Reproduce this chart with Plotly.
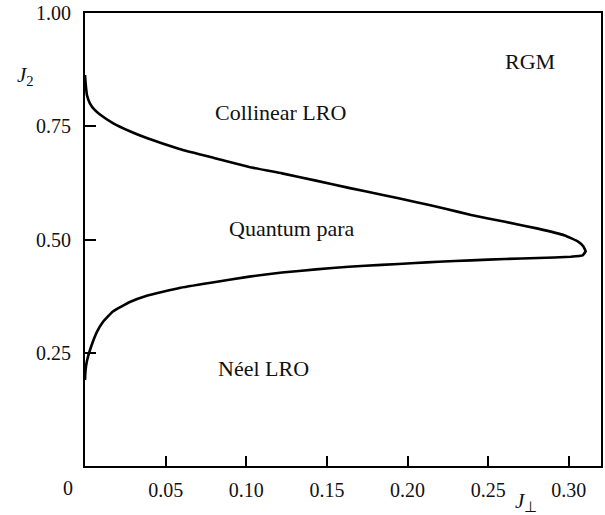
import plotly.graph_objects as go

# Phase boundary (J_perp, J2), traced from top branch through nose to bottom branch
j_perp = [0.0, 0.0005, 0.0012, 0.0031, 0.0060, 0.0093, 0.0173, 0.0278, 0.0383, 0.0586, 0.0800,
          0.1019, 0.1222, 0.1432, 0.1636, 0.1840, 0.2049, 0.2235, 0.2395, 0.2605, 0.2809,
          0.2975, 0.3056, 0.3090, 0.3105, 0.3086, 0.3012, 0.2809, 0.2605, 0.2395, 0.2191,
          0.2049, 0.1840, 0.1636, 0.1432, 0.1222, 0.1019, 0.0790, 0.0586, 0.0383, 0.0278,
          0.0173, 0.0111, 0.0074, 0.0031, 0.0012, 0.0003, 0.0]
j2 = [0.863, 0.840, 0.819, 0.800, 0.786, 0.776, 0.757, 0.739, 0.724, 0.700, 0.680,
      0.660, 0.646, 0.630, 0.614, 0.599, 0.583, 0.568, 0.554, 0.539, 0.524,
      0.509, 0.496, 0.485, 0.474, 0.465, 0.462, 0.459, 0.457, 0.454, 0.451,
      0.448, 0.444, 0.440, 0.434, 0.427, 0.418, 0.405, 0.393, 0.376, 0.362,
      0.341, 0.318, 0.296, 0.256, 0.232, 0.210, 0.190]

x_ticks = [0, 0.05, 0.10, 0.15, 0.20, 0.25, 0.30]
x_labels = ["", "0.05", "0.10", "0.15", "0.20", "0.25", "0.30"]
y_ticks = [0, 0.25, 0.50, 0.75, 1.00]
y_labels = ["", "0.25", "0.50", "0.75", "1.00"]

phase_names = ["Collinear LRO", "Quantum para", "Néel LRO", "RGM"]
phase_x = [0.121, 0.128, 0.1106, 0.276]
phase_y = [0.781, 0.525, 0.216, 0.892]

FONT = "Liberation Serif, Times New Roman, serif"

fig = go.Figure()
fig.add_trace(go.Scatter(x=j_perp, y=j2, mode="lines",
                         line=dict(color="black", width=2.6, shape="spline", smoothing=0.3),
                         showlegend=False, hoverinfo="skip"))

for name, px, py in zip(phase_names, phase_x, phase_y):
    fig.add_annotation(x=px, y=py, text=name, showarrow=False,
                       font=dict(family=FONT, size=22, color="#111"),
                       xanchor="center", yanchor="middle")

fig.add_annotation(xref="paper", yref="paper", x=-0.032, y=-0.048, text="0", showarrow=False,
                   font=dict(family=FONT, size=20, color="#111"), xanchor="center", yanchor="middle")
fig.add_annotation(xref="paper", yref="paper", x=-0.135, y=0.86, text="<i>J</i><sub>2</sub>",
                   showarrow=False, font=dict(family=FONT, size=21, color="#111"),
                   xanchor="left", yanchor="middle")
fig.add_annotation(xref="paper", yref="paper", x=0.83, y=-0.08, text="<i>J</i><sub>⊥</sub>",
                   showarrow=False, font=dict(family=FONT, size=21, color="#111"),
                   xanchor="left", yanchor="middle")

fig.update_layout(
    width=605, height=515,
    margin=dict(l=85, r=2, t=13, b=49),
    paper_bgcolor="white", plot_bgcolor="white",
    font=dict(family=FONT, size=20, color="#111"),
    xaxis=dict(range=[0, 0.32], tickmode="array", tickvals=x_ticks, ticktext=x_labels,
               ticks="inside", ticklen=10, tickwidth=1.5, tickcolor="black",
               showline=True, linecolor="black", linewidth=1.8, mirror=True,
               showgrid=False, zeroline=False, ticklabelstandoff=5),
    yaxis=dict(range=[0, 1], tickmode="array", tickvals=y_ticks, ticktext=y_labels,
               ticks="inside", ticklen=11, tickwidth=1.5, tickcolor="black",
               showline=True, linecolor="black", linewidth=1.8, mirror=True,
               showgrid=False, zeroline=False, ticklabelstandoff=8),
)

fig.write_html("out.html")
